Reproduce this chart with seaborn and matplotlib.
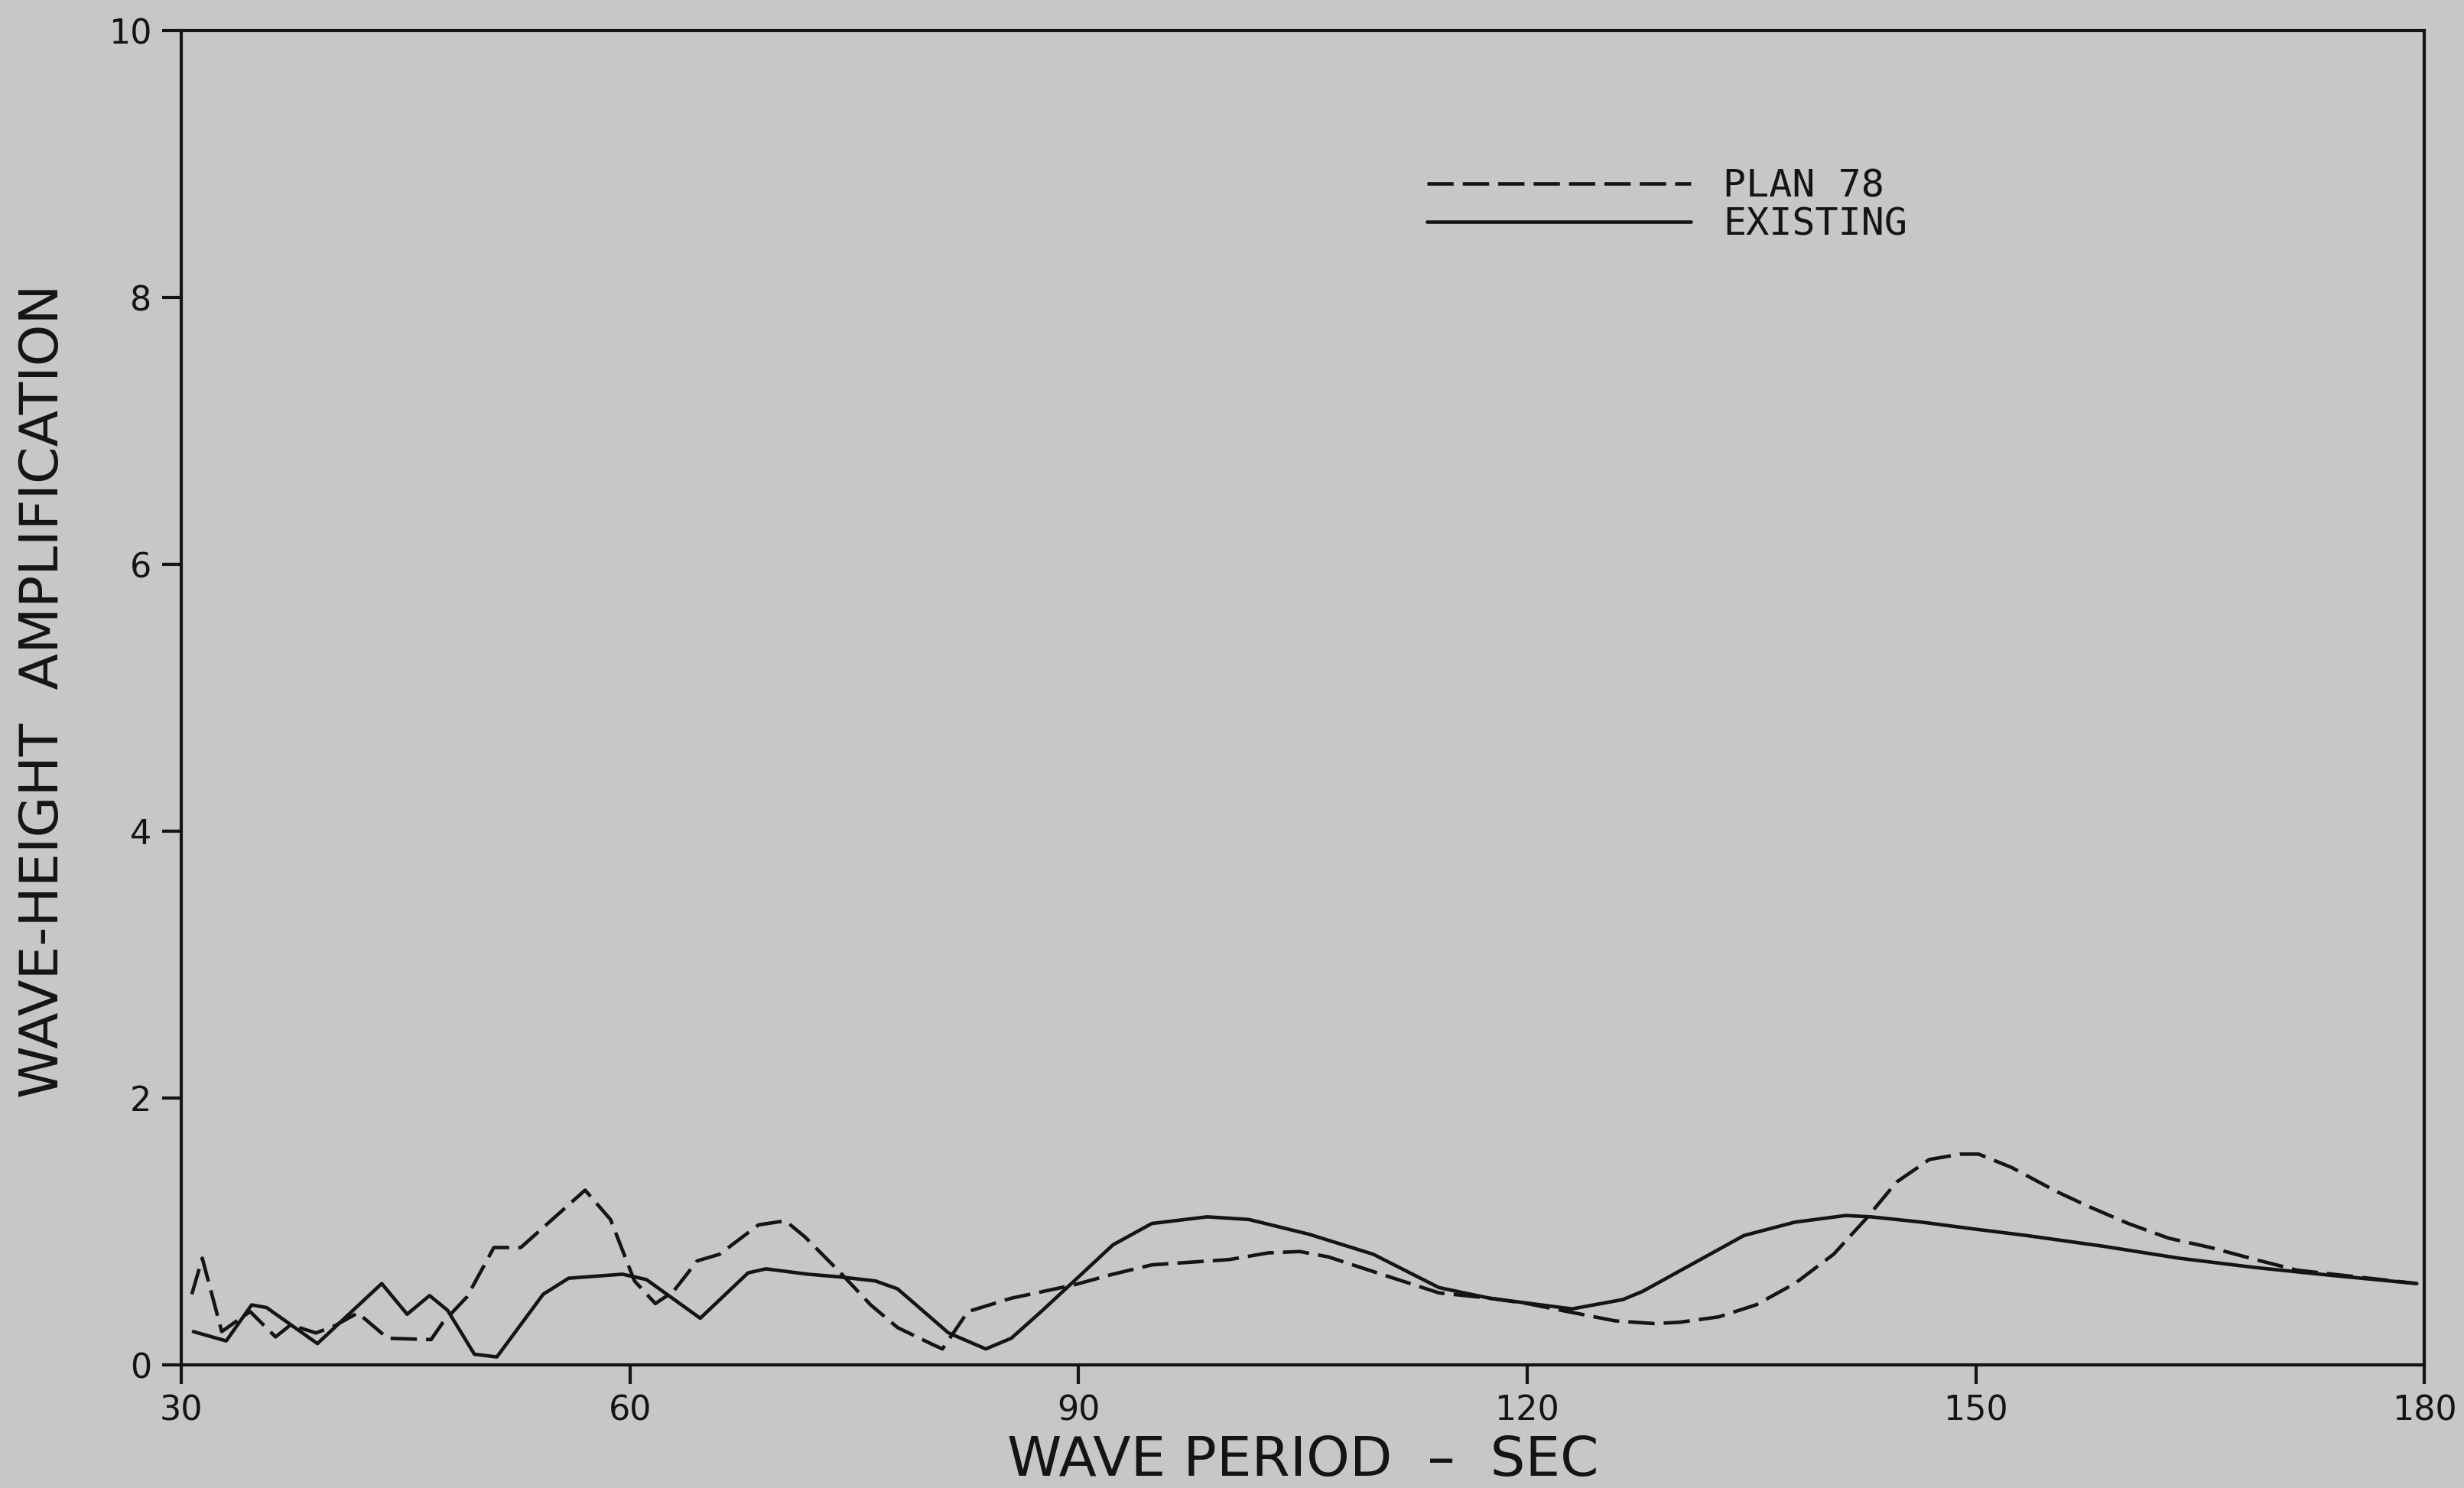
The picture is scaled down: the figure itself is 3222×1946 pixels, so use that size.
import matplotlib
matplotlib.use("Agg")
import matplotlib.pyplot as plt
import seaborn as sns
import pandas as pd

# Wave period (sec) and wave-height amplification for the two harbour layouts
plan78_period = [30.7, 31.4, 32.7, 34.6, 36.3, 37.3, 39.0, 40.2, 41.8, 43.8,
                 46.7, 47.5, 49.1, 50.9, 52.7, 55.1, 57.0, 58.7, 60.3, 61.7,
                 62.9, 64.5, 66.0, 68.6, 70.4, 71.7, 74.0, 76.1, 77.9, 80.3,
                 80.9, 82.6, 85.5, 89.7, 92.3, 94.9, 100.1, 102.7, 104.8, 106.7,
                 109.7, 114.1, 117.5, 120.0, 122.7, 125.9, 128.5, 130.2, 132.8, 135.3,
                 137.9, 140.5, 142.7, 144.7, 146.9, 149.0, 150.2, 152.4, 153.4, 155.4,
                 157.5, 160.2, 162.9, 165.7, 168.7, 171.5, 175.5, 179.5]
plan78_amp = [0.53, 0.80, 0.25, 0.40, 0.21, 0.30, 0.24, 0.29, 0.39, 0.20,
              0.19, 0.32, 0.51, 0.88, 0.88, 1.12, 1.31, 1.09, 0.63, 0.46,
              0.55, 0.78, 0.83, 1.05, 1.08, 0.96, 0.70, 0.45, 0.28, 0.15,
              0.12, 0.40, 0.50, 0.60, 0.68, 0.75, 0.79, 0.84, 0.85, 0.81,
              0.70, 0.54, 0.50, 0.46, 0.40, 0.33, 0.31, 0.32, 0.36, 0.45,
              0.61, 0.83, 1.10, 1.37, 1.54, 1.58, 1.58, 1.48, 1.42, 1.30,
              1.19, 1.06, 0.95, 0.88, 0.79, 0.71, 0.66, 0.61]

existing_period = [30.8, 33.0, 34.7, 35.7, 39.1, 43.4, 45.1, 46.6, 47.8, 49.6,
                   51.1, 54.2, 55.9, 59.5, 61.1, 64.7, 67.9, 69.1, 71.9, 74.0,
                   76.4, 77.9, 81.3, 83.8, 85.5, 87.6, 90.0, 92.3, 94.9, 98.6,
                   101.4, 105.4, 109.7, 114.1, 117.5, 123.0, 126.4, 127.7, 131.1, 134.5,
                   137.9, 141.3, 143.0, 146.4, 149.8, 153.4, 158.5, 163.6, 168.7, 173.9,
                   179.5]
existing_amp = [0.25, 0.18, 0.45, 0.43, 0.16, 0.61, 0.38, 0.52, 0.41, 0.08,
                0.06, 0.53, 0.65, 0.68, 0.64, 0.35, 0.69, 0.72, 0.68, 0.66,
                0.63, 0.57, 0.24, 0.12, 0.20, 0.41, 0.66, 0.90, 1.06, 1.11,
                1.09, 0.98, 0.83, 0.58, 0.50, 0.42, 0.49, 0.55, 0.76, 0.97,
                1.07, 1.12, 1.11, 1.07, 1.02, 0.97, 0.89, 0.80, 0.73, 0.67,
                0.61]

series_labels = ["PLAN 78", "EXISTING"]
x_ticks = [30, 60, 90, 120, 150, 180]
y_ticks = [0, 2, 4, 6, 8, 10]

sns.set_theme(style="ticks")
paper = "#c6c7c6"
ink = "#141414"
plt.rcParams["font.family"] = ["DejaVu Sans"]

df = pd.concat([
    pd.DataFrame({"period": plan78_period, "amp": plan78_amp, "case": series_labels[0]}),
    pd.DataFrame({"period": existing_period, "amp": existing_amp, "case": series_labels[1]}),
], ignore_index=True)

fig = plt.figure(figsize=(32.22, 19.46), dpi=100, facecolor=paper)
ax = fig.add_axes([0.0736, 0.0827, 0.9103, 0.8967])
ax.set_facecolor(paper)

sns.lineplot(data=df, x="period", y="amp", hue="case", style="case",
             palette={series_labels[0]: ink, series_labels[1]: ink},
             dashes={series_labels[0]: (7.5, 2.6), series_labels[1]: ""},
             linewidth=3.3, sort=False, estimator=None, legend=False, ax=ax)

ax.set_xlim(30, 180)
ax.set_ylim(0, 10)
ax.set_xticks(x_ticks)
ax.set_yticks(y_ticks)
ax.tick_params(axis="both", direction="out", length=18, width=3.0, color=ink,
               labelsize=32, labelcolor=ink, pad=10)
for side in ["left", "right", "top", "bottom"]:
    ax.spines[side].set_visible(True)
    ax.spines[side].set_color(ink)
    ax.spines[side].set_linewidth(3.0)

ax.set_xlabel("WAVE PERIOD  \u2013  SEC", fontsize=52, color=ink)
ax.set_ylabel("WAVE-HEIGHT  AMPLIFICATION", fontsize=50, color=ink)
ax.xaxis.set_label_coords(0.5, -0.052)
ax.yaxis.set_label_coords(-0.050, 0.505)

lines = ax.get_lines()
leg = ax.legend(handles=[lines[0], lines[1]], labels=series_labels,
                loc="center left", bbox_to_anchor=(0.540, 0.869),
                frameon=False, handlelength=6.9, handletextpad=0.85,
                labelspacing=0.05, prop={"family": "DejaVu Sans Mono", "size": 36})
for t in leg.get_texts():
    t.set_color(ink)

fig.savefig("out.png", dpi=100, facecolor=paper)
